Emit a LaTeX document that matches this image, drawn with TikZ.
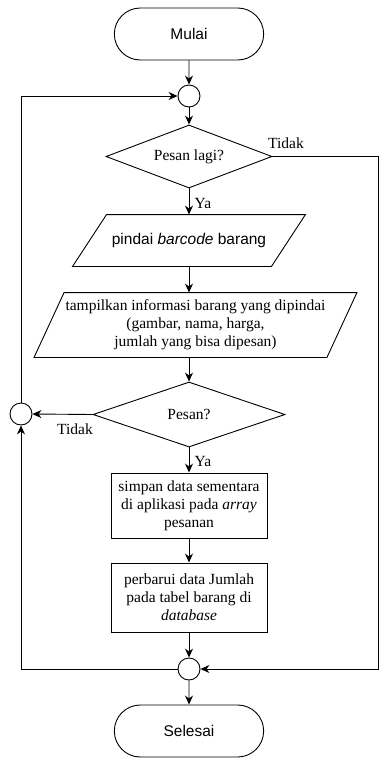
\documentclass[tikz,border=0pt]{standalone}
\usepackage{fontspec}
\setmainfont{Liberation Serif}
\setsansfont{Liberation Sans}
\usetikzlibrary{shapes.geometric,shapes.misc,arrows.meta}

\begin{document}
\begin{tikzpicture}[x=1pt,y=-1pt,line width=0.9pt,
    >={Stealth[length=9pt,width=8pt]},
    txt/.style={font=\fontsize{15.5}{18}\selectfont, align=center},
    terminal/.style={rounded rectangle, draw, txt, font=\sffamily\fontsize{15.5}{18}\selectfont, minimum width=156pt, minimum height=52pt},
    joint/.style={circle, draw, minimum size=22pt, inner sep=0pt},
    decision/.style={diamond, draw, txt, inner sep=0pt},
    iobox/.style={rectangle, txt, inner sep=0pt},
    process/.style={rectangle, draw, txt, minimum width=156pt, inner sep=2pt}]
    % Fix the size of the page
    \useasboundingbox (0,0) rectangle (379,758);
    % Start and first joint
    \node[terminal] (mulai) at (189,34) {Mulai};
    \node[joint] (jtop) at (189,96) {};
    % Ask whether to order again
    \node[decision, minimum width=166pt, minimum height=63pt, shape aspect=2.6] (lagi) at (189,156.5) {Pesan lagi?};
    \node[iobox, minimum width=198pt, minimum height=51pt, font=\sffamily\fontsize{15.5}{18}\selectfont] (pindai) at (189,240.5) {pindai \textit{barcode} barang};
    \node[iobox, minimum width=292pt, minimum height=64pt] (info) at (195.5,325) {tampilkan informasi barang yang dipindai\\(gambar, nama, harga,\\jumlah yang bisa dipesan)};
    % Outline of the two input boxes
    \draw ([xshift=-17pt]pindai.south west) -- ([xshift=17pt]pindai.north west) -- ([xshift=17pt]pindai.north east) -- ([xshift=-17pt]pindai.south east) -- cycle;
    \draw ([xshift=-15pt]info.south west) -- ([xshift=15pt]info.north west) -- ([xshift=15pt]info.north east) -- ([xshift=-15pt]info.south east) -- cycle;
    % Ask whether to order this item
    \node[decision, minimum width=192pt, minimum height=65pt, shape aspect=2.95] (pesan) at (189,414.5) {Pesan?};
    \node[joint] (jleft) at (21,414) {};
    \node[process, minimum height=65pt] (simpan) at (189,505.5) {simpan data sementara\\di aplikasi pada \textit{array}\\pesanan};
    \node[process, minimum height=69pt] (perbarui) at (189,597.5) {perbarui data Jumlah\\pada tabel barang di\\\textit{database}};
    % Last joint and end
    \node[joint] (jbot) at (189,669) {};
    \node[terminal] (selesai) at (189,731) {Selesai};
    \coordinate (kanan) at (378.5,156.5);

    % Labels of the branches
    \node[txt] (tidak1) at (286,143) {Tidak};
    \node[txt] (ya1) at (203,203) {Ya};
    \node[txt] (tidak2) at (75,429) {Tidak};
    \node[txt] (ya2) at (203,461) {Ya};

    % Main flow
    \draw[->] (mulai) -- (jtop);
    \draw[->] (jtop) -- (lagi);
    \draw[->] (lagi) -- (pindai);
    \draw[->] (pindai.south) -- (pindai.south |- info.north);
    \draw[->] (pesan.north |- info.south) -- (pesan.north);
    \draw[->] (pesan) -- (simpan);
    \draw[->] (simpan) -- (perbarui);
    \draw[->] (perbarui) -- (jbot);
    \draw[->] (jbot) -- (selesai);
    % Loops
    \draw[->] (pesan.west) -- (jleft.east);
    \draw[->] (jleft.north) |- (jtop.west);
    \draw[->] (jbot.west) -| (jleft.south);
    \draw[->] (lagi.east) -- (kanan) |- (jbot.east);
\end{tikzpicture}
\end{document}
